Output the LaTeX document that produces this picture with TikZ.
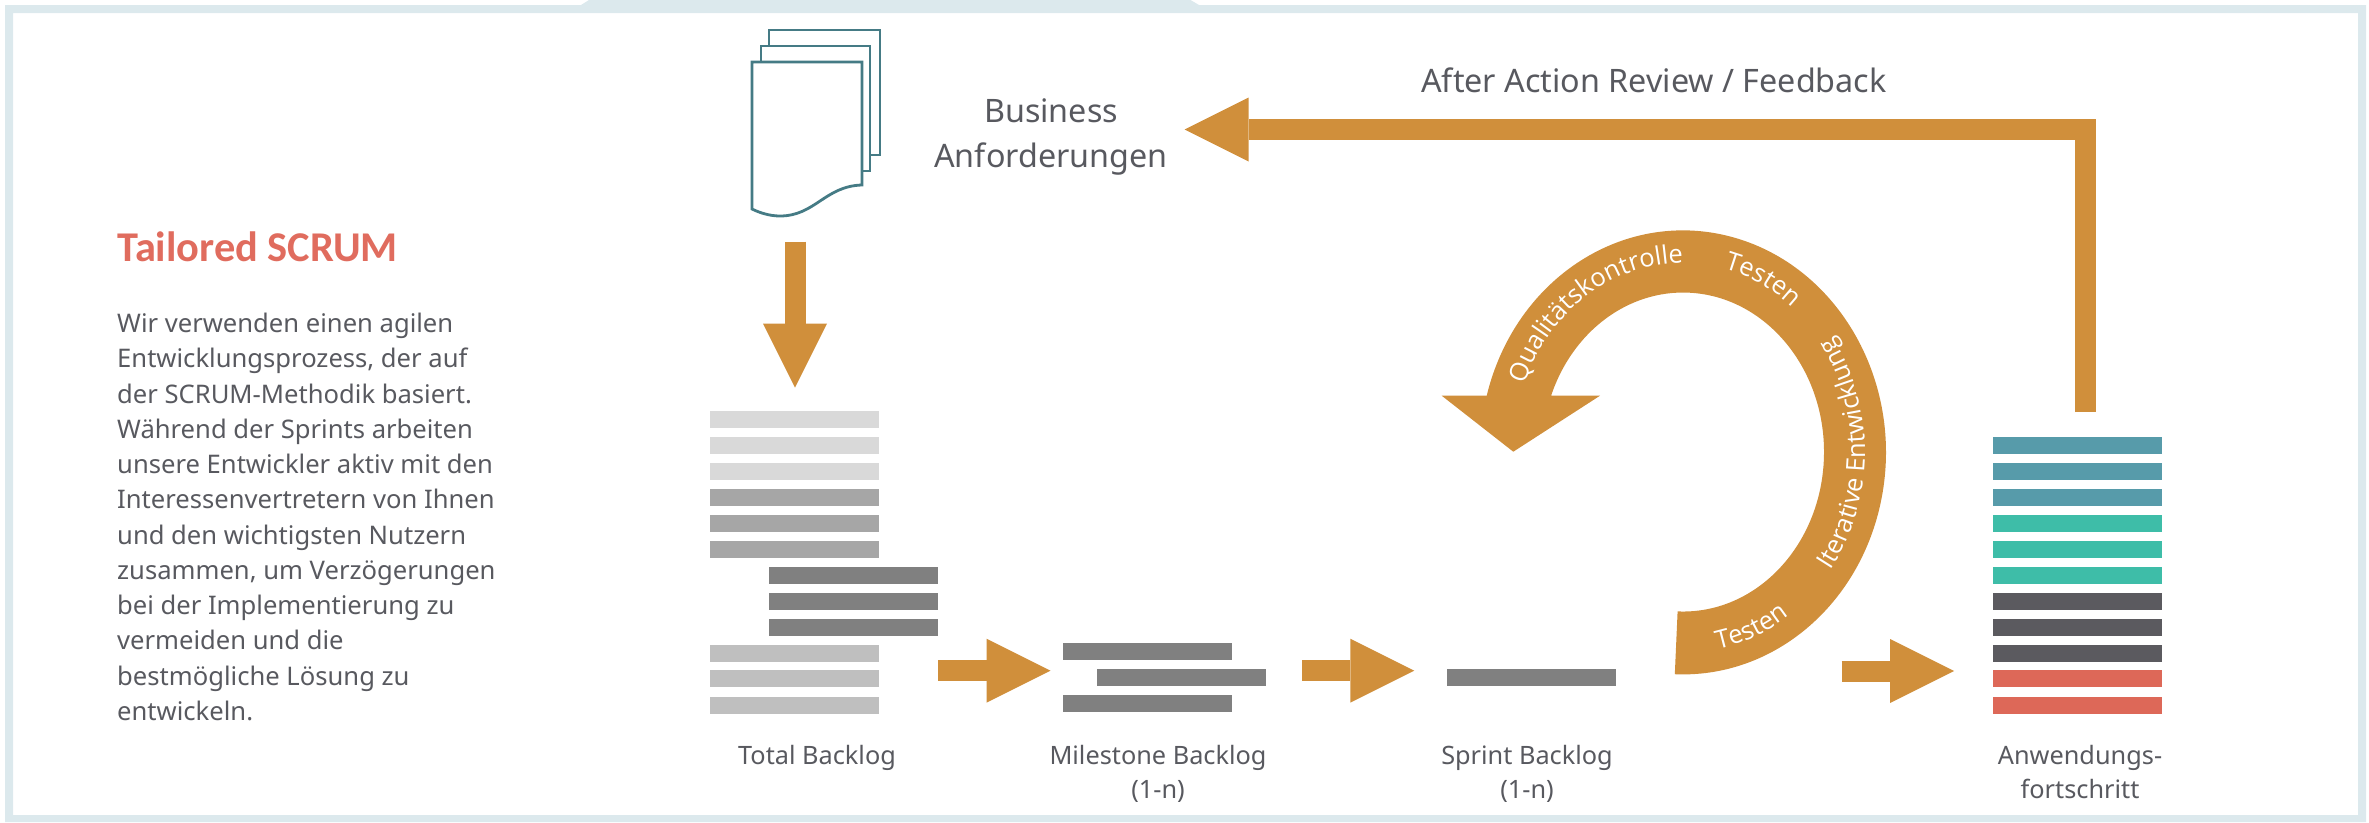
\documentclass[tikz,border=0pt]{standalone}
\usepackage{fontspec}
\setmainfont{Noto Sans}
\newfontfamily\ringfont{Open Sans}
\newfontfamily\headfont{Carlito}
\usetikzlibrary{arrows.meta,decorations.text}
\definecolor{framecol}{HTML}{DCE9ED}
\definecolor{arrowcol}{HTML}{D08F3B}
\definecolor{textcol}{HTML}{58595F}
\definecolor{pagecol}{HTML}{457B85}
\definecolor{headcol}{HTML}{E06C5E}
\definecolor{tealcol}{HTML}{579BAA}
\definecolor{greencol}{HTML}{3EBDA8}
\definecolor{darkcol}{HTML}{5B5A5F}
\definecolor{redcol}{HTML}{DD6858}
\tikzset{
barbox/.style={shape=rectangle, inner sep=0pt, minimum width=169pt, minimum height=17pt, anchor=north west},
caption/.style={text=textcol, align=center, anchor=base, font=\fontsize{25.3}{34}\selectfont},
bigcaption/.style={text=textcol, align=center, anchor=base, font=\fontsize{32.3}{45}\selectfont},
blockline/.style={draw=arrowcol, line width=21pt, -{Triangle[length=64pt, width=64pt, line width=0pt, fill=arrowcol]}},
pagesheet/.style={draw=pagecol, line width=2.8pt, fill=white},
ringtext/.style={decorate, decoration={text along path, text color=white, text align=left}},
}
\begin{document}
\begin{tikzpicture}[x=1pt, y=-1pt]
\useasboundingbox (0,0) rectangle (2369,822);
\fill[framecol, even odd rule] (5,5) rectangle (2366,822) (13,13) rectangle (2358,815);
\fill[framecol] (581,5) -- (589,0) -- (1190.5,0) -- (1199,5) -- cycle;

\node[text=headcol, anchor=base west, inner sep=0pt, font=\headfont\bfseries\fontsize{42.4}{48}\selectfont] (title) at (117,261.3) {Tailored SCRUM};
\node[text=textcol, anchor=north west, inner sep=0pt, align=left, font=\fontsize{25.6}{35.25}\selectfont] (intro) at (117,313)
{Wir verwenden einen agilen\\
Entwicklungsprozess, der auf\\
der SCRUM-Methodik basiert.\\
Während der Sprints arbeiten\\
unsere Entwickler aktiv mit den\\
Interessenvertretern von Ihnen\\
und den wichtigsten Nutzern\\
zusammen, um Verzögerungen\\
bei der Implementierung zu\\
vermeiden und die\\
bestmögliche Lösung zu\\
entwickeln.};

\draw[pagesheet] (769,30) rectangle (880,155);
\draw[pagesheet] (761,46) rectangle (870,171);
\draw[pagesheet] (752,62) -- (862,62) -- (862,185) .. controls (825,186) and (815,216) .. (780,216) .. controls (770,216) and (760,213) .. (752,209) -- cycle;

\node[bigcaption] (business) at (1051,122.7) {Business};
\node[bigcaption] (anforderung) at (1051,167.7) {Anforderungen};
\node[bigcaption] (review) at (1654,92.5) {After Action Review / Feedback};

\foreach \i/\y/\c in {1/411/black!15, 2/437/black!15, 3/463/black!15, 4/489/black!35, 5/515/black!35, 6/541/black!35, 10/645/black!25, 11/670/black!25, 12/697/black!25}
\node[barbox, fill=\c] (total\i) at (710,\y) {};
\foreach \i/\y in {7/567, 8/593, 9/619}
\node[barbox, fill=black!50] (total\i) at (769,\y) {};
\foreach \i/\x/\y in {1/1063/643, 2/1097/669, 3/1063/695}
\node[barbox, fill=black!50] (mile\i) at (\x,\y) {};
\node[barbox, fill=black!50] (sprint) at (1447,669) {};
\foreach \i/\y/\c in {1/437/tealcol, 2/463/tealcol, 3/489/tealcol, 4/515/greencol, 5/541/greencol, 6/567/greencol, 7/593/darkcol, 8/619/darkcol, 9/645/darkcol, 10/670/redcol, 11/697/redcol}
\node[barbox, fill=\c] (prog\i) at (1993,\y) {};

\node[caption] (totallabel) at (817,764) {Total Backlog};
\node[caption] (milelabel) at (1158,764) {Milestone Backlog};
\node[caption] (milen) at (1158,798) {(1-n)};
\node[caption] (sprintlabel) at (1527,764) {Sprint Backlog};
\node[caption] (sprintn) at (1527,798) {(1-n)};
\node[caption] (proglabel) at (2080,764) {Anwendungs-};
\node[caption] (progword) at (2080,798) {fortschritt};

\coordinate (docfoot) at (795,241.7);
\coordinate (doctip) at (795,387.7);
\coordinate (totalout) at (938,670.7);
\coordinate (milein) at (1050.5,670.7);
\coordinate (mileout) at (1302,670.7);
\coordinate (sprintin) at (1414.3,670.7);
\coordinate (sprintout) at (1841.7,671);
\coordinate (progin) at (1954,671);
\coordinate (progtop) at (2085.5,412);
\coordinate (reviewtip) at (1184.5,129.5);
\draw[blockline] (docfoot) -- (doctip);
\draw[blockline] (totalout) -- (milein);
\draw[blockline] (mileout) -- (sprintin);
\draw[blockline] (sprintout) -- (progin);
\draw[blockline] (progtop) |- (reviewtip);

\fill[arrowcol] (1441.7,395.7) -- (1486.7,395.7) arc[start angle=165.2, end angle=-92.3, x radius=203pt, y radius=222pt] -- (1677.6,611.4) arc[start angle=-92.2, end angle=159.3, x radius=141pt, y radius=159.5pt] -- (1600,395.7) -- (1513.3,451.7) -- cycle;

\path[ringtext, decoration={text={|\ringfont\fontsize{25.5}{30}\selectfont|Qualitätskontrolle}}] (1683,452) ++(159:170pt and 189pt) arc[start angle=159, end angle=65, x radius=170pt, y radius=189pt];
\path[ringtext, decoration={text={|\ringfont\fontsize{25.5}{30}\selectfont|Testen}}] (1683,452) ++(76:170pt and 189pt) arc[start angle=76, end angle=5, x radius=170pt, y radius=189pt];
\path[ringtext, decoration={text={|\ringfont\fontsize{25.5}{30}\selectfont|Iterative Entwicklung}}] (1683,452) ++(-36:182pt and 201pt) arc[start angle=-36, end angle=60, x radius=182pt, y radius=201pt];
\path[ringtext, decoration={text={|\ringfont\fontsize{25.5}{30}\selectfont|Testen}}] (1683,452) ++(-79:182pt and 201pt) arc[start angle=-79, end angle=-25, x radius=182pt, y radius=201pt];
\end{tikzpicture}
\end{document}
